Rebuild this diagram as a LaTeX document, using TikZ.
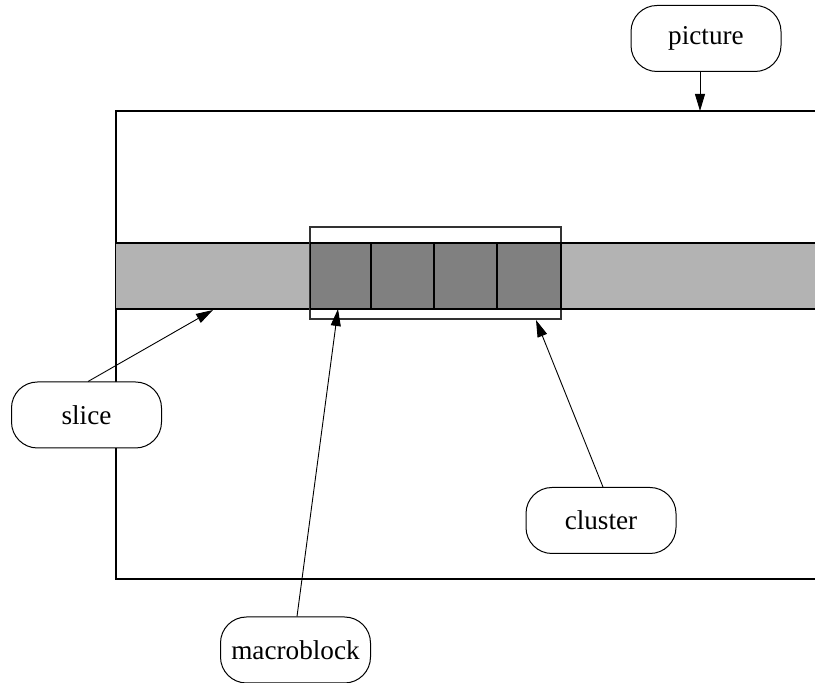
\documentclass[tikz,border=0pt]{standalone}
\usepackage{fontspec}
\setmainfont{Liberation Serif}
\usetikzlibrary{arrows.meta}
\definecolor{slicegray}{HTML}{B3B3B3}
\definecolor{mbgray}{HTML}{808080}
\tikzset{
  label box/.style={draw, fill=white, rounded corners=13pt, line width=0.5pt,
    minimum width=75pt, minimum height=33pt, inner sep=0pt,
    font=\fontsize{13.6pt}{16pt}\selectfont},
  pointer/.style={line width=0.45pt, -{Triangle[length=8.5pt,width=5pt]}},
  outline/.style={line width=0.6pt},
  mblock/.style={draw, fill=mbgray, line width=0.6pt, inner sep=0pt}
}
\begin{document}
\begin{tikzpicture}[x=0.5pt, y=-0.5pt]
  \useasboundingbox (0,0) rectangle (815,683);
  % picture frame, open to the right
  \draw[outline] (815,111) -- (116,111) -- (116,579) -- (815,579);
  % slice band across the picture
  \fill[slicegray] (116,243) rectangle (815,309);
  \draw[outline] (116,243) -- (815,243) (116,309) -- (815,309);
  % cluster outline
  \draw[outline, draw=black!80] (310,227) rectangle (561,319);
  % macroblocks of the cluster
  \node[mblock, minimum width=30.5pt, minimum height=33pt] (mb1) at (341,276) {};
  \node[mblock, minimum width=31.5pt, minimum height=33pt] (mb2) at (402.5,276) {};
  \node[mblock, minimum width=31.5pt, minimum height=33pt] (mb3) at (465.5,276) {};
  \node[mblock, minimum width=32pt, minimum height=33pt] (mb4) at (529,276) {};
  % label boxes
  \node[label box] (picture) at (706,38.5) {picture};
  \node[label box] (slice) at (86.5,415) {slice};
  \node[label box] (cluster) at (601,520.5) {cluster};
  \node[label box] (macroblock) at (295.5,650) {macroblock};
  % arrow targets
  \coordinate (picTip) at (700,111);
  \coordinate (sliceTip) at (213,310);
  \coordinate (mbTip) at (338,309);
  \coordinate (clTip) at (536,320);
  % pointers
  \draw[pointer] (picture.south -| picTip) -- (picTip);
  \draw[pointer] ([xshift=0.75pt]slice.north) -- (sliceTip);
  \draw[pointer] ([xshift=0.75pt]macroblock.north) -- (mbTip);
  \draw[pointer] ([xshift=1pt]cluster.north) -- (clTip);
\end{tikzpicture}
\end{document}
